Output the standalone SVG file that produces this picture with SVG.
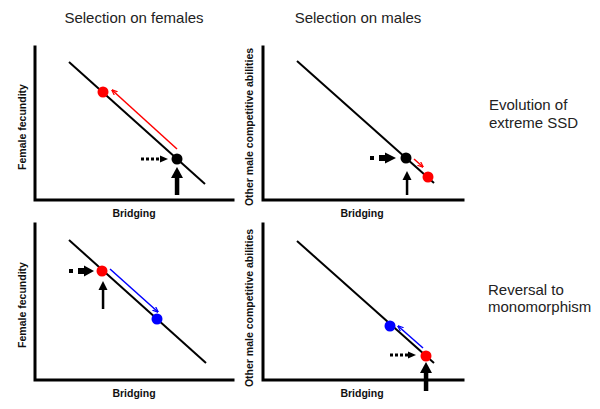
<svg xmlns="http://www.w3.org/2000/svg" width="600" height="409" viewBox="0 0 600 409">
<style>
.title{font-family:"Liberation Sans",Arial,sans-serif;font-size:15px;fill:#222}
.lab{font-family:"Liberation Sans",Arial,sans-serif;font-size:10.5px;font-weight:bold;fill:#111;text-anchor:middle}
.axis{stroke:#000;stroke-width:3;fill:none;stroke-linecap:square}
.tr{stroke:#000;stroke-width:2;fill:none}
.red{stroke:#f00;stroke-width:1.5;fill:none}
.blue{stroke:#00f;stroke-width:1.5;fill:none}
.dash{stroke:#000;stroke-width:3;stroke-dasharray:3 2;fill:none}
.blk{fill:#000}
</style>
<defs>
<marker id="ar" viewBox="0 0 10 10" refX="9" refY="5" markerWidth="6" markerHeight="6" markerUnits="userSpaceOnUse" orient="auto"><path d="M0,1 L10,5 L0,9" fill="none" stroke="#f00" stroke-width="2"/></marker>
<marker id="ab" viewBox="0 0 10 10" refX="9" refY="5" markerWidth="6" markerHeight="6" markerUnits="userSpaceOnUse" orient="auto"><path d="M0,1 L10,5 L0,9" fill="none" stroke="#00f" stroke-width="2"/></marker>
</defs>
<g id="titles">
<text class="title" x="134" y="23" text-anchor="middle">Selection on females</text>
<text class="title" x="358" y="23" text-anchor="middle">Selection on males</text>
<text class="title" x="489" y="110">Evolution of</text>
<text class="title" x="489" y="128">extreme SSD</text>
<text class="title" x="488" y="295">Reversal to</text>
<text class="title" x="488" y="312">monomorphism</text>
</g>
<g id="panel-tl">
<path class="axis" d="M35,47 V200 H233"/>
<text class="lab" x="134" y="217">Bridging</text>
<text class="lab" transform="translate(26,127) rotate(-90)">Female fecundity</text>
</g>
<g id="panel-tr">
<path class="axis" d="M263,47 V200 H463"/>
<text class="lab" x="362" y="217">Bridging</text>
<text class="lab" transform="translate(253,127) rotate(-90)">Other male competitive abilities</text>
</g>
<g id="panel-bl">
<path class="axis" d="M35,224 V380 H233"/>
<text class="lab" x="134" y="397">Bridging</text>
<text class="lab" transform="translate(26,305) rotate(-90)">Female fecundity</text>
</g>
<g id="panel-br">
<path class="axis" d="M263,224 V380 H463"/>
<text class="lab" x="362" y="397">Bridging</text>
<text class="lab" transform="translate(253,308) rotate(-90)">Other male competitive abilities</text>
</g>
<g id="connectors">
<line class="tr" x1="69" y1="62" x2="205" y2="184"/>
<line class="tr" x1="297" y1="61" x2="434" y2="183"/>
<line class="tr" x1="69" y1="240" x2="206" y2="363"/>
<line class="tr" x1="297" y1="241" x2="434" y2="363"/>
<line class="red" x1="177" y1="149" x2="112" y2="90" marker-end="url(#ar)"/>
<line class="red" x1="414" y1="159" x2="423" y2="167" marker-end="url(#ar)"/>
<line class="blue" x1="110" y1="269" x2="158" y2="312" marker-end="url(#ab)"/>
<line class="blue" x1="423" y1="348" x2="398" y2="326" marker-end="url(#ab)"/>
<line class="dash" x1="141" y1="159" x2="160" y2="159"/>
<polygon class="blk" points="160,155.5 168,159 160,162.5"/>
<line class="dash" x1="390" y1="355" x2="408" y2="355"/>
<polygon class="blk" points="408,351.5 416,355 408,358.5"/>
<rect class="blk" x="370" y="156" width="4" height="4"/>
<rect class="blk" x="379" y="155" width="7" height="6"/>
<polygon class="blk" points="385,152.5 396,158 385,163.5"/>
<rect class="blk" x="69" y="269" width="4" height="4"/>
<rect class="blk" x="78" y="268" width="7" height="6"/>
<polygon class="blk" points="84,265.5 94,271 84,276.5"/>
<rect class="blk" x="174.8" y="177" width="4.5" height="18"/>
<polygon class="blk" points="171,178 177,167 183,178"/>
<rect class="blk" x="423.8" y="372" width="4.5" height="19"/>
<polygon class="blk" points="420,373 426,362 432,373"/>
<rect class="blk" x="405.8" y="179" width="2.5" height="16"/>
<polygon class="blk" points="402.5,180 407,171 411.5,180"/>
<rect class="blk" x="101.8" y="289" width="2.5" height="20"/>
<polygon class="blk" points="98.5,290 103,281 107.5,290"/>
</g>
<g id="dots">
<circle cx="103" cy="92" r="5.5" fill="#f00"/>
<circle cx="177" cy="159" r="5.5" fill="#000"/>
<circle cx="406" cy="158" r="5.5" fill="#000"/>
<circle cx="428" cy="177" r="5.5" fill="#f00"/>
<circle cx="102" cy="271" r="5.5" fill="#f00"/>
<circle cx="157" cy="319" r="5.5" fill="#00f"/>
<circle cx="390" cy="326" r="5.5" fill="#00f"/>
<circle cx="426" cy="356" r="5.5" fill="#f00"/>
</g>
</svg>
